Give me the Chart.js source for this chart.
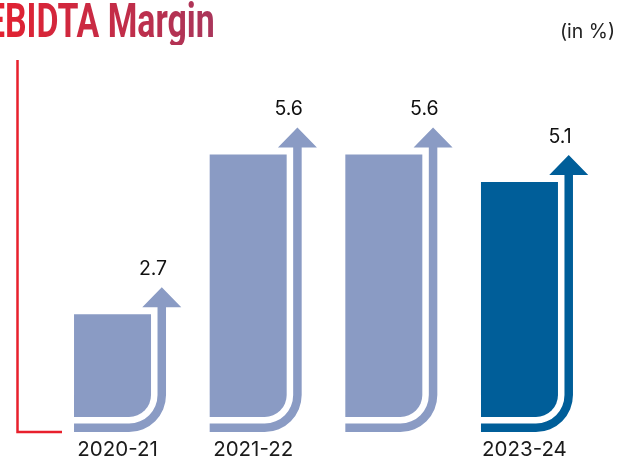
<!DOCTYPE html>
<html><head><meta charset="utf-8">
<script src="https://cdn.jsdelivr.net/npm/chart.js@4.4.1/dist/chart.umd.min.js"></script>
<style>
html,body{margin:0;padding:0;background:#fff;}
#wrap{position:relative;width:621px;height:462px;overflow:hidden;}
canvas{position:absolute;left:0;top:0;}
#title{position:absolute;left:-14px;top:-3px;font-family:Roboto,sans-serif;font-weight:bold;font-size:48px;line-height:1;white-space:nowrap;transform-origin:0 0;background:linear-gradient(90deg,#E6202E,#A9365B);-webkit-background-clip:text;background-clip:text;color:transparent;-webkit-text-fill-color:transparent;}
#unit{position:absolute;right:6px;top:19px;font-family:Inter,sans-serif;font-size:19.5px;line-height:24px;color:#222;}
</style></head><body>
<div id="wrap">
<canvas id="c" width="621" height="462"></canvas>
<div id="title">EBIDTA Margin</div>
<div id="unit">(in %)</div>
</div>
<script>
const categories = ['2020-21', '2021-22', '2022-23', '2023-24'];
const tickLabels = ['2020-21', '2021-22', '', '2023-24'];
const margins = [2.7, 5.6, 5.6, 5.1];
const barColors = ['#8A9BC4', '#8A9BC4', '#8A9BC4', '#005E99'];
const axisMin = 0.83;
const axisMax = 8.41;

// condensed title: fit width
const t = document.getElementById('title');
const w0 = t.offsetWidth;
t.style.transform = 'scaleX(' + (229 / w0) + ')';

const arrowPlugin = {
  id: 'arrows',
  beforeDraw(chart) {
    const ctx = chart.ctx;
    ctx.save();
    ctx.strokeStyle = '#E8202C';
    ctx.lineWidth = 2.5;
    ctx.beginPath();
    ctx.moveTo(17.5, 60);
    ctx.lineTo(17.5, 432);
    ctx.lineTo(62, 432);
    ctx.stroke();
    ctx.restore();
  },
  afterDatasetsDraw(chart) {
    const ctx = chart.ctx;
    const meta = chart.getDatasetMeta(0);
    meta.data.forEach((bar, i) => {
      const p = bar.getProps(['x', 'y', 'base', 'width'], true);
      const L = p.x - p.width / 2, R = p.x + p.width / 2, T = p.y, B = p.base;
      const r = 22, gap = 6.5, th = 8.5;
      const ri = r + gap, ro = ri + th;
      const cx = R - r, cy = B - r;
      const sL = R + gap, sR = R + gap + th, sc = (sL + sR) / 2;
      const hb = T - 7, hh = 20, hw = 19.5;
      ctx.save();
      ctx.fillStyle = barColors[i];
      ctx.beginPath();
      ctx.moveTo(L, B + gap);
      ctx.lineTo(cx, B + gap);
      ctx.arc(cx, cy, ri, Math.PI / 2, 0, true);
      ctx.lineTo(sL, hb);
      ctx.lineTo(sc - hw, hb);
      ctx.lineTo(sc, hb - hh);
      ctx.lineTo(sc + hw, hb);
      ctx.lineTo(sR, hb);
      ctx.lineTo(sR, cy);
      ctx.arc(cx, cy, ro, 0, Math.PI / 2, false);
      ctx.lineTo(L, B + gap + th);
      ctx.closePath();
      ctx.fill();
      ctx.fillStyle = '#111';
      ctx.font = '19.5px Inter';
      ctx.textAlign = 'center';
      ctx.textBaseline = 'middle';
      ctx.fillText(margins[i].toFixed(1), R + 2, T - 45);
      ctx.restore();
    });
  }
};

new Chart(document.getElementById('c'), {
  type: 'bar',
  data: {
    labels: categories,
    datasets: [{
      data: margins,
      base: axisMin,
      backgroundColor: barColors,
      borderWidth: 0,
      borderSkipped: false,
      borderRadius: {topLeft: 0, topRight: 0, bottomLeft: 0, bottomRight: 22},
      categoryPercentage: 1,
      barPercentage: 0.5676
    }]
  },
  options: {
    responsive: false,
    devicePixelRatio: 1,
    animation: false,
    layout: {padding: {left: 44.7, right: 33.7, top: 0, bottom: 0}},
    plugins: {legend: {display: false}, tooltip: {enabled: false}},
    scales: {
      x: {
        offset: true,
        grid: {display: false, drawTicks: false},
        border: {display: false},
        ticks: {
          callback: (v, i) => tickLabels[i],
          font: {family: 'Inter', size: 20.5},
          color: '#1a1a1a',
          padding: 21,
          labelOffset: 5,
          maxRotation: 0,
          autoSkip: false
        },
        afterFit(s) { s.height = 45; }
      },
      y: {display: false, min: axisMin, max: axisMax}
    }
  },
  plugins: [arrowPlugin]
});
</script>
</body></html>
